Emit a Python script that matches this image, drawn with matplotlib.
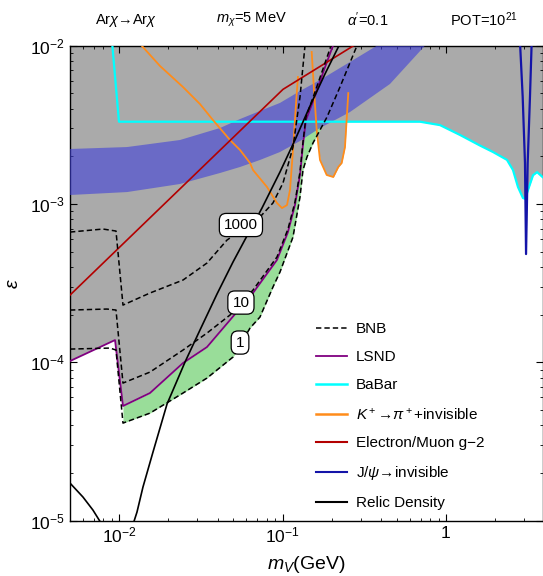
import numpy as np
import matplotlib.pyplot as plt
from matplotlib.lines import Line2D
from matplotlib.ticker import NullFormatter

plt.rcParams['font.family'] = ['Liberation Sans', 'DejaVu Sans']
plt.rcParams['mathtext.fontset'] = 'custom'
plt.rcParams['mathtext.rm'] = 'Liberation Sans'
plt.rcParams['mathtext.it'] = 'Liberation Sans:italic'
plt.rcParams['mathtext.bf'] = 'Liberation Sans:bold'

# ---------------------------------------------------------------
# limits in the (m_V [GeV], epsilon) plane
# ---------------------------------------------------------------
lsnd_m = [0.0050, 0.00943, 0.01055, 0.01543, 0.02458, 0.03446, 0.04766, 0.0659,
          0.0924, 0.1079, 0.1191, 0.1278, 0.1333, 0.1390, 0.1579, 0.1792, 0.2034]
lsnd_eps = [1.019e-4, 1.383e-4, 5.30e-5, 6.40e-5, 9.90e-5, 1.249e-4, 1.849e-4, 2.741e-4,
            4.43e-4, 6.65e-4, 9.85e-4, 1.525e-3, 2.359e-3, 3.39e-3, 4.81e-3, 7.02e-3, 1.0e-2]

babar_m = [0.00907, 0.00997, 0.693, 0.919, 1.218, 1.615, 1.94, 2.362, 2.57,
           2.758, 2.96, 3.05, 3.18, 3.41, 3.61, 3.9]
babar_eps = [1.02e-2, 3.31e-3, 3.31e-3, 3.15e-3, 2.73e-3, 2.34e-3, 2.13e-3, 1.90e-3, 1.64e-3,
             1.28e-3, 1.09e-3, 1.08e-3, 1.23e-3, 1.52e-3, 1.59e-3, 1.48e-3]

# K+ -> pi+ + invisible, two pieces either side of the pion gap
kpi1_m = [0.01373, 0.01778, 0.02458, 0.03122, 0.0375, 0.04766, 0.0549, 0.0632, 0.0659,
          0.0803, 0.0924, 0.0992, 0.1064, 0.1110, 0.1158, 0.1216, 0.1242]
kpi1_eps = [1.0e-2, 7.44e-3, 5.48e-3, 4.28e-3, 3.39e-3, 2.537e-3, 2.194e-3, 1.816e-3, 1.640e-3,
            1.281e-3, 1.015e-3, 9.43e-4, 9.85e-4, 1.226e-3, 2.194e-3, 4.74e-3, 6.34e-3]
kpi2_m = [0.1507, 0.1557, 0.1617, 0.1694, 0.1862, 0.2043, 0.2193, 0.2300, 0.2409, 0.2524]
kpi2_eps = [9.13e-3, 5.25e-3, 2.934e-3, 1.897e-3, 1.525e-3, 1.481e-3, 1.713e-3, 1.816e-3,
            2.29e-3, 5.02e-3]

g2_m = [0.0050, 0.1006, 0.272]
g2_eps = [2.66e-4, 5.30e-3, 1.0e-2]

jpsi_m = [2.838, 2.947, 3.044, 3.09, 3.162, 3.266, 3.345]
jpsi_eps = [1.05e-2, 4.76e-3, 1.815e-3, 4.83e-4, 1.815e-3, 4.76e-3, 1.05e-2]

relic_m = [0.01232, 0.01285, 0.01398, 0.01610, 0.01962, 0.02528, 0.03122, 0.03968, 0.04971,
           0.0605, 0.0748, 0.0964, 0.1191, 0.1472, 0.1818, 0.2214]
relic_eps = [9.9e-6, 1.133e-5, 1.631e-5, 2.712e-5, 5.45e-5, 1.004e-4, 1.600e-4, 2.70e-4, 4.30e-4,
             6.28e-4, 9.43e-4, 1.593e-3, 2.537e-3, 4.16e-3, 6.63e-3, 1.0e-2]
relic_low_m = [0.0049, 0.0050, 0.006005, 0.00691, 0.00763]
relic_low_eps = [1.75e-5, 1.728e-5, 1.41e-5, 1.167e-5, 9.9e-6]

# favoured band (upper / lower edge)
band_hi_m = [0.0050, 0.01117, 0.02356, 0.0414, 0.0549, 0.0727, 0.0964, 0.1278, 0.1694,
             0.2245, 0.2976, 0.378]
band_hi_eps = [2.226e-3, 2.29e-3, 2.537e-3, 3.02e-3, 3.44e-3, 3.87e-3, 4.35e-3, 5.17e-3,
               6.07e-3, 7.23e-3, 8.61e-3, 1.0e-2]
band_lo_m = [0.0050, 0.01117, 0.02356, 0.0414, 0.0549, 0.0727, 0.0964, 0.1278, 0.1694,
             0.2585, 0.4542, 0.7436]
band_lo_eps = [1.14e-3, 1.19e-3, 1.338e-3, 1.57e-3, 1.713e-3, 1.897e-3, 2.13e-3, 2.50e-3,
               3.02e-3, 3.81e-3, 5.73e-3, 1.0e-2]

# BNB sensitivity contours (events)
bnb1_m = [0.0050, 0.00879, 0.00956, 0.01055, 0.01543, 0.02458, 0.03446, 0.04971, 0.0632,
          0.0727, 0.0873, 0.0964, 0.1158, 0.1278, 0.1333, 0.1410, 0.1535, 0.1869, 0.2245, 0.2853]
bnb1_eps = [1.213e-4, 1.231e-4, 1.196e-4, 4.135e-5, 4.78e-5, 6.40e-5, 7.96e-5, 1.080e-4, 1.647e-4,
            1.933e-4, 2.99e-4, 3.72e-4, 6.19e-4, 1.107e-3, 1.640e-3, 1.981e-3, 2.428e-3,
            3.54e-3, 5.48e-3, 1.0e-2]
bnb10_m = [0.0050, 0.00842, 0.00956, 0.01055, 0.01543, 0.02458, 0.03446, 0.04766, 0.0659,
           0.0924, 0.1079, 0.1191, 0.1278, 0.1333, 0.1390, 0.1579, 0.1792, 0.1978]
bnb10_eps = [2.14e-4, 2.171e-4, 2.14e-4, 7.40e-5, 8.68e-5, 1.196e-4, 1.531e-4, 1.99e-4, 2.86e-4,
             4.63e-4, 6.95e-4, 1.029e-3, 1.593e-3, 2.464e-3, 3.54e-3, 5.10e-3, 7.44e-3, 1.0e-2]
bnb1000_m = [0.0050, 0.00796, 0.00956, 0.01055, 0.01543, 0.02458, 0.03446, 0.04568, 0.0727,
             0.0873, 0.1006, 0.1158, 0.1278, 0.1371]
bnb1000_eps = [6.65e-4, 6.95e-4, 6.75e-4, 2.30e-4, 2.741e-4, 3.31e-4, 4.24e-4, 5.92e-4, 8.28e-4,
               1.015e-3, 1.358e-3, 2.29e-3, 4.74e-3, 1.0e-2]

contour_levels = ['1000', '10', '1']
contour_label_m = [0.0556, 0.0556, 0.0549]
contour_label_eps = [7.37e-4, 2.386e-4, 1.334e-4]

GRAY = '#aaaaaa'
GREEN = '#99dd99'
PURPLE = '#800080'
CYAN = '#00ffff'
ORANGE = '#ff8c1a'
RED = '#b30000'
NAVY = '#1414a8'


def loginterp(x, m, e):
    return 10 ** np.interp(np.log10(x), np.log10(m), np.log10(e))


fig = plt.figure(figsize=(5.43, 5.76), dpi=100)
ax = fig.add_axes([0.1289, 0.0960, 0.8703, 0.8247])
ax.set_xscale('log')
ax.set_yscale('log')

# excluded regions
for m, e in [(lsnd_m, lsnd_eps), (babar_m, babar_eps), (kpi2_m, kpi2_eps), (jpsi_m, jpsi_eps)]:
    ax.fill_between(m, e, 1, color=GRAY, lw=0, zorder=1)

# reach of BNB with 1 event beyond the existing limits
grid = np.logspace(np.log10(bnb1_m[3]), np.log10(0.2), 600)
lo = loginterp(grid, bnb1_m, bnb1_eps)
hi = np.minimum(loginterp(grid, lsnd_m, lsnd_eps), loginterp(grid, babar_m, babar_eps))
ax.fill_between(grid, lo, hi, where=lo < hi, interpolate=True, color=GREEN, lw=0, zorder=2)

ax.fill(np.r_[band_hi_m, band_lo_m[::-1]], np.r_[band_hi_eps, band_lo_eps[::-1]],
        color=(0.25, 0.25, 0.85), alpha=0.6, lw=0, zorder=3)

dash = (0, (3.5, 2))
for m, e in [(bnb1_m, bnb1_eps), (bnb10_m, bnb10_eps), (bnb1000_m, bnb1000_eps)]:
    ax.plot(m, e, color='black', lw=1.1, ls=dash, zorder=5)
ax.plot(lsnd_m, lsnd_eps, color=PURPLE, lw=1.3, zorder=4)
ax.plot(babar_m, babar_eps, color=CYAN, lw=1.6, zorder=4)
ax.plot(kpi1_m, kpi1_eps, color=ORANGE, lw=1.3, zorder=4)
ax.plot(kpi2_m, kpi2_eps, color=ORANGE, lw=1.3, zorder=4)
ax.plot(g2_m, g2_eps, color=RED, lw=1.2, zorder=4)
ax.plot(jpsi_m, jpsi_eps, color=NAVY, lw=1.6, zorder=4)
ax.plot(relic_m, relic_eps, color='black', lw=1.2, zorder=5)
ax.plot(relic_low_m, relic_low_eps, color='black', lw=1.2, zorder=5)

for lev, m, e in zip(contour_levels, contour_label_m, contour_label_eps):
    ax.text(m, e, lev, fontsize=11, ha='center', va='center', zorder=7,
            bbox=dict(boxstyle='round,pad=0.3,rounding_size=0.45', fc='white', ec='black', lw=0.9))

ax.set_xlim(0.005, 3.9)
ax.set_ylim(1e-5, 1e-2)
ax.set_xticks([0.01, 0.1, 1], [r'$10^{-2}$', r'$10^{-1}$', '1'])
ax.set_yticks([1e-5, 1e-4, 1e-3, 1e-2], [r'$10^{-5}$', r'$10^{-4}$', r'$10^{-3}$', r'$10^{-2}$'])
ax.xaxis.set_minor_formatter(NullFormatter())
ax.yaxis.set_minor_formatter(NullFormatter())
ax.tick_params(which='both', direction='in', top=True, right=True, labelsize=12.5)
ax.tick_params(which='major', length=5, width=0.8)
ax.tick_params(which='minor', length=2.5, width=0.6)
for s in ax.spines.values():
    s.set_linewidth(1.0)

ax.set_xlabel(r'$m_V$(GeV)', fontsize=14, labelpad=6)
ax.set_ylabel(r'$\varepsilon$', fontsize=14, labelpad=6)

handles = [Line2D([], [], color='black', lw=1.1, ls=dash),
           Line2D([], [], color=PURPLE, lw=1.3),
           Line2D([], [], color=CYAN, lw=1.8),
           Line2D([], [], color=ORANGE, lw=1.8),
           Line2D([], [], color=RED, lw=1.5),
           Line2D([], [], color=NAVY, lw=1.5),
           Line2D([], [], color='black', lw=1.5)]
labels = ['BNB', 'LSND', 'BaBar', r'$K^+$→$\pi^+$+invisible', 'Electron/Muon g−2',
          r'J/$\psi$→invisible', 'Relic Density']
ax.legend(handles, labels, loc='upper left', bbox_to_anchor=(316 / 543, 1 - 322 / 576),
          bbox_transform=fig.transFigure, frameon=False, fontsize=11, borderpad=0,
          borderaxespad=0, handlelength=2.0, handletextpad=0.6, labelspacing=0.92)

fig.text(126 / 543, 0.965, r'Ar$\chi$→Ar$\chi$', fontsize=10.5, ha='center', va='center')
fig.text(251 / 543, 0.965, r'$m_\chi$=5 MeV', fontsize=10.5, ha='center', va='center')
fig.text(368 / 543, 0.965, r"$\alpha'$=0.1", fontsize=10.5, ha='center', va='center')
fig.text(484 / 543, 0.965, r'POT=10$^{21}$', fontsize=10.5, ha='center', va='center')

fig.savefig('out.png', dpi=100)
